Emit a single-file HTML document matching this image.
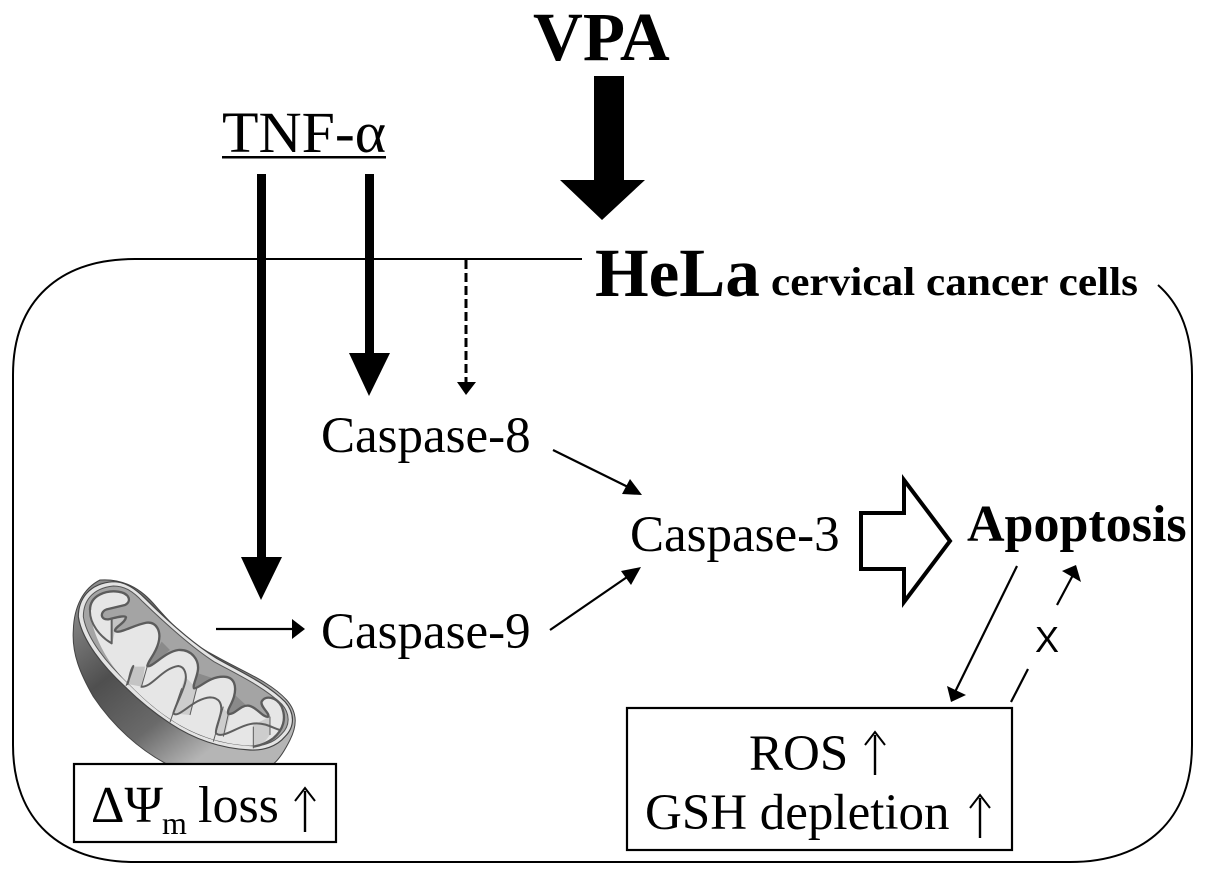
<!DOCTYPE html>
<html><head><meta charset="utf-8"><style>
html,body{margin:0;padding:0;background:#fff;width:1205px;height:875px;overflow:hidden}
svg{display:block}
text{font-family:"Liberation Serif",serif;fill:#000}
</style></head><body>
<svg width="1205" height="875" viewBox="0 0 1205 875" xmlns="http://www.w3.org/2000/svg">
<defs>
<linearGradient id="g" x1="0" y1="0" x2="0.75" y2="0.8"><stop offset="0" stop-color="#9a9a9a"/><stop offset="0.45" stop-color="#4f4f4f"/><stop offset="0.75" stop-color="#6a6a6a"/><stop offset="1" stop-color="#b5b5b5"/></linearGradient>
</defs>
<!-- cell -->
<path d="M582 259H135C60 259 13 300 13 375V745C13 820 60 862 135 862H1070C1145 862 1192 820 1192 745V375C1192 325 1175 300 1158 285" fill="none" stroke="#000" stroke-width="2"/>
<text x="533" y="60" font-size="69" font-weight="bold">VPA</text>
<polygon points="594,76 624,76 624,180 645,180 602,220 560,180 594,180" fill="#000"/>
<text x="222" y="152" font-size="58" textLength="164" lengthAdjust="spacingAndGlyphs">TNF-α</text>
<rect x="222" y="156" width="164" height="2.5" fill="#000"/>
<rect x="257" y="174" width="9" height="390" fill="#000"/>
<polygon points="241,557 282,557 261,600" fill="#000"/>
<rect x="365" y="174" width="9" height="182" fill="#000"/>
<polygon points="349,353 390,353 369,396" fill="#000"/>
<line x1="466" y1="260" x2="466" y2="384" stroke="#000" stroke-width="3" stroke-dasharray="9 4"/>
<polygon points="457,382 476,382 466,395" fill="#000"/>
<text x="595" y="296" font-size="69" font-weight="bold">HeLa</text>
<text x="771" y="295" font-size="40" font-weight="bold" textLength="367" lengthAdjust="spacingAndGlyphs">cervical cancer cells</text>
<text x="321" y="452" font-size="51">Caspase-8</text>
<text x="321" y="648" font-size="51">Caspase-9</text>
<text x="630" y="551" font-size="51">Caspase-3</text>
<text x="967" y="541" font-size="52" font-weight="bold">Apoptosis</text>
<!-- small arrows -->
<line x1="553" y1="450" x2="628" y2="487" stroke="#000" stroke-width="2.2"/>
<polygon points="642,495 622,494 630,479" fill="#000"/>
<line x1="550" y1="630" x2="630" y2="575" stroke="#000" stroke-width="2.2"/>
<polygon points="641,567 631,585 621,571" fill="#000"/>
<line x1="216" y1="629" x2="293" y2="629" stroke="#000" stroke-width="2.2"/>
<polygon points="305,629 292,619 292,639" fill="#000"/>
<line x1="1017" y1="566" x2="955" y2="692" stroke="#000" stroke-width="2.2"/>
<polygon points="951,702 947,686 966,695" fill="#000"/>
<line x1="1011" y1="702" x2="1028" y2="669" stroke="#000" stroke-width="2.2"/>
<line x1="1057" y1="605" x2="1073" y2="575" stroke="#000" stroke-width="2.2"/>
<polygon points="1076,565 1062,571 1081,582" fill="#000"/>
<text x="1035" y="652" font-size="36" style='font-family:"Liberation Sans",sans-serif'>X</text>
<!-- hollow arrow -->
<polygon points="861,513 904,513 904,480 950,541 904,602 904,569 861,569" fill="#fff" stroke="#000" stroke-width="4"/>
<!-- mitochondrion -->
<g transform="translate(50,560) scale(0.3333)">
<path d="M150 60C220 55 270 85 310 130C370 200 420 250 500 290C580 335 660 365 710 420C745 460 740 500 720 540C700 580 685 600 670 612H350C270 570 190 500 130 410C90 340 65 280 70 210C72 140 100 85 150 60Z" fill="url(#g)" stroke="#444" stroke-width="3"/>
<!-- rim -->
<path d="M85 170C85 120 115 70 190 65C225 65 255 85 285 115C340 170 420 245 500 295C570 335 650 370 705 425C735 460 735 500 705 530C680 560 640 572 600 570C500 565 420 530 360 490C300 450 260 415 225 380C160 320 95 240 85 170Z" fill="#e4e4e4" stroke="#444" stroke-width="3.5"/>
<!-- interior grey -->
<path d="M100 170C100 125 125 85 190 78C225 78 250 95 278 125C335 180 415 255 492 305C565 345 640 380 695 432C722 462 720 498 695 522C670 550 635 560 600 557C505 552 425 520 365 480C305 440 270 405 235 370C170 310 110 235 100 170Z" fill="#a4a4a4" stroke="#555" stroke-width="3"/>
<!-- light lower zone -->
<path d="M120 150C120 105 170 90 205 95C240 100 245 125 225 135L170 148C150 155 150 180 175 178C200 172 225 165 228 172C225 190 195 200 195 212C205 225 250 195 290 188C320 185 335 215 325 250C315 285 295 300 292 318C305 325 345 275 385 270C425 268 450 300 443 335C438 360 428 375 432 385C450 385 475 350 520 350C555 350 560 380 552 410C545 435 530 450 535 462C555 465 570 435 595 437C620 440 640 475 655 470C660 460 630 440 635 425C645 405 680 410 695 440C710 475 700 510 670 535C650 550 630 557 600 557C505 552 425 520 365 480C305 440 270 405 235 370C170 310 125 220 120 150Z" fill="#e6e6e6"/>
<!-- shaded faces -->
<path d="M290 320L335 245L360 270L300 320ZM432 385L445 340L490 355ZM535 462L555 405L590 437Z" fill="#8a8a8a"/>
<path d="M185 250V175L228 170L195 212L187 250ZM245 320L285 320L275 380L232 372Z" fill="#c4c4c4"/>
<path d="M405 350L440 385L420 465L370 460ZM515 440L540 465L525 525L495 520ZM610 560V495L660 470V525L640 550Z" fill="#cdcdcd"/>
<!-- cristae lines -->
<path d="M120 150C120 105 170 90 205 95C240 100 245 125 225 135L170 148C150 155 150 180 175 178C200 172 225 165 228 172C225 190 195 200 195 212C205 225 250 195 290 188C320 185 335 215 325 250C315 285 295 300 292 318C305 325 345 275 385 270C425 268 450 300 443 335C438 360 428 375 432 385C450 385 475 350 520 350C555 350 560 380 552 410C545 435 530 450 535 462C555 465 570 435 595 437C620 440 640 475 655 470C660 460 630 440 635 425C645 405 680 410 695 440C710 475 700 510 670 535C650 550 630 557 610 560" fill="none" stroke="#5c5c5c" stroke-width="7" stroke-linejoin="round"/>
<path d="M120 150C118 190 150 230 185 250V175M232 375C240 350 240 330 250 318L232 372M272 380C305 385 335 325 385 318C405 320 412 345 405 370C395 405 375 440 370 460C385 478 430 415 480 412C510 412 518 435 512 460C505 490 495 510 498 520C520 540 570 490 620 490C650 490 670 505 690 510" fill="none" stroke="#5f5f5f" stroke-width="6" stroke-linejoin="round"/>
<path d="M360 487L395 385M490 545L520 440M610 565V500M660 525V470M228 378L250 320M275 378L292 318M420 465L440 385M535 462L520 530" fill="none" stroke="#5c5c5c" stroke-width="3"/>
</g>
<!-- boxes -->
<rect x="74" y="764" width="262" height="78" fill="#fff" stroke="#000" stroke-width="2.2"/>
<text x="91" y="822" font-size="52">ΔΨ</text>
<text x="162" y="834" font-size="32">m</text>
<text x="198" y="822" font-size="52">loss</text>
<line x1="305" y1="791" x2="305" y2="832" stroke="#000" stroke-width="2.4"/>
<path d="M295 801L305 788L315 801" fill="none" stroke="#000" stroke-width="2"/>
<rect x="627" y="708" width="385" height="142" fill="#fff" stroke="#000" stroke-width="2.2"/>
<text x="749" y="770" font-size="51">ROS</text>
<line x1="875" y1="735" x2="875" y2="775" stroke="#000" stroke-width="2.4"/>
<path d="M865 745L875 732L885 745" fill="none" stroke="#000" stroke-width="2"/>
<text x="645" y="829" font-size="51">GSH depletion</text>
<line x1="980" y1="798" x2="980" y2="838" stroke="#000" stroke-width="2.4"/>
<path d="M970 808L980 795L990 808" fill="none" stroke="#000" stroke-width="2"/>
</svg>
</body></html>
